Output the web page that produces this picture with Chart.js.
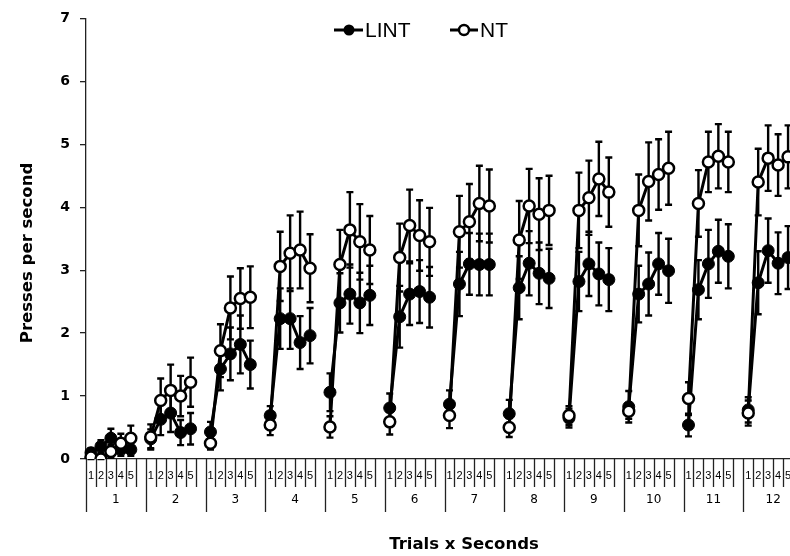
<!DOCTYPE html>
<html lang="en">
<head>
    <meta charset="UTF-8">
    <title>Presses per second - LINT vs NT</title>
    <style>
        html, body {
            margin: 0;
            padding: 0;
            background: #fff;
            overflow: hidden;
        }
        #wrap {
            width: 811px;
            height: 556px;
        }
    </style>
    <script src="https://cdn.jsdelivr.net/npm/chart.js"></script>
</head>
<body>
    <div id="wrap"><canvas id="pressChart" width="811" height="556"></canvas></div>

    <script>
        // trials (groups) and seconds within each trial
        const trials = ['1', '2', '3', '4', '5', '6', '7', '8', '9', '10', '11', '12'];
        const seconds = ['1', '2', '3', '4', '5'];
        const yTicks = [0, 1, 2, 3, 4, 5, 6, 7];

        // mean presses per second, one row per trial
        const lintMeans = [
            0.10, 0.20, 0.33, 0.15, 0.15,
            0.32, 0.63, 0.73, 0.42, 0.48,
            0.43, 1.43, 1.67, 1.82, 1.50,
            0.69, 2.23, 2.23, 1.85, 1.96,
            1.06, 2.48, 2.62, 2.48, 2.60,
            0.81, 2.26, 2.62, 2.66, 2.57,
            0.87, 2.78, 3.10, 3.09, 3.09,
            0.72, 2.72, 3.11, 2.95, 2.87,
            0.65, 2.82, 3.10, 2.94, 2.85,
            0.83, 2.62, 2.78, 3.10, 2.99,
            0.54, 2.69, 3.10, 3.30, 3.22,
            0.78, 2.80, 3.31, 3.11, 3.20
        ];
        const ntMeans = [
            0.03, 0.00, 0.12, 0.25, 0.33,
            0.35, 0.93, 1.09, 1.00, 1.22,
            0.25, 1.72, 2.40, 2.55, 2.57,
            0.54, 3.06, 3.27, 3.32, 3.03,
            0.51, 3.09, 3.64, 3.45, 3.32,
            0.59, 3.20, 3.71, 3.55, 3.45,
            0.69, 3.61, 3.77, 4.06, 4.02,
            0.50, 3.48, 4.02, 3.89, 3.95,
            0.69, 3.95, 4.15, 4.45, 4.24,
            0.76, 3.95, 4.41, 4.52, 4.62,
            0.96, 4.06, 4.72, 4.81, 4.72,
            0.73, 4.40, 4.78, 4.67, 4.80
        ];
        // standard errors
        const lintSem = [
            0.07, 0.10, 0.15, 0.10, 0.10,
            0.15, 0.25, 0.30, 0.20, 0.25,
            0.16, 0.34, 0.42, 0.46, 0.38,
            0.15, 0.48, 0.48, 0.42, 0.44,
            0.30, 0.47, 0.47, 0.48, 0.47,
            0.23, 0.49, 0.49, 0.50, 0.48,
            0.22, 0.51, 0.49, 0.49, 0.49,
            0.22, 0.50, 0.51, 0.49, 0.47,
            0.15, 0.47, 0.51, 0.50, 0.50,
            0.25, 0.45, 0.50, 0.49, 0.51,
            0.18, 0.47, 0.54, 0.50, 0.51,
            0.20, 0.50, 0.51, 0.49, 0.50
        ];
        const ntSem = [
            0.05, 0.05, 0.10, 0.15, 0.20,
            0.20, 0.35, 0.41, 0.32, 0.39,
            0.10, 0.42, 0.50, 0.48, 0.49,
            0.16, 0.55, 0.60, 0.61, 0.54,
            0.17, 0.55, 0.60, 0.60, 0.54,
            0.20, 0.54, 0.57, 0.56, 0.54,
            0.20, 0.57, 0.60, 0.60, 0.58,
            0.15, 0.62, 0.59, 0.57, 0.55,
            0.15, 0.60, 0.59, 0.59, 0.55,
            0.12, 0.57, 0.62, 0.56, 0.58,
            0.26, 0.53, 0.48, 0.51, 0.48,
            0.20, 0.53, 0.52, 0.49, 0.50
        ];

        // each trial gets 5 slots + 1 empty slot, so the lines break between trials
        const slotsPerTrial = seconds.length + 1;
        const labels = [];
        trials.forEach(() => { seconds.forEach(s => labels.push(s)); labels.push(''); });

        function withGaps(arr) {
            const out = [];
            trials.forEach((t, g) => {
                seconds.forEach((s, i) => out.push(arr[g * seconds.length + i]));
                out.push(null);
            });
            return out;
        }

        const FONT = "'DejaVu Sans', sans-serif";

        // error bars, drawn under the lines/markers
        const errorBars = {
            id: 'errorBars',
            beforeDatasetsDraw(chart) {
                const ctx = chart.ctx;
                const y = chart.scales.y;
                ctx.save();
                ctx.strokeStyle = '#000';
                ctx.lineWidth = 2.4;
                chart.data.datasets.forEach((ds, di) => {
                    const meta = chart.getDatasetMeta(di);
                    const sem = withGaps(ds.sem);
                    ds.data.forEach((v, i) => {
                        if (v === null) return;
                        const px = meta.data[i].x;
                        const top = y.getPixelForValue(v + sem[i]);
                        const bot = y.getPixelForValue(Math.max(0, v - sem[i]));
                        ctx.beginPath();
                        ctx.moveTo(px, top); ctx.lineTo(px, bot);
                        ctx.moveTo(px - 3.5, top); ctx.lineTo(px + 3.5, top);
                        ctx.moveTo(px - 3.5, bot); ctx.lineTo(px + 3.5, bot);
                        ctx.stroke();
                    });
                });
                ctx.restore();
            }
        };

        // trial / second axis, titles and legend
        const decorations = {
            id: 'decorations',
            afterDraw(chart) {
                const ctx = chart.ctx;
                const x = chart.scales.x;
                const area = chart.chartArea;
                const bw = (x.right - x.left) / labels.length;
                ctx.save();
                ctx.strokeStyle = '#222';
                ctx.lineWidth = 1.3;
                ctx.beginPath();
                for (let k = 0; k <= labels.length; k++) {
                    const px = Math.round(x.left + k * bw) + 0.5;
                    const len = (k % slotsPerTrial === 0) ? 53 : 28;
                    ctx.moveTo(px, area.bottom);
                    ctx.lineTo(px, area.bottom + len);
                }
                ctx.stroke();

                ctx.fillStyle = '#000';
                ctx.textAlign = 'center';
                ctx.textBaseline = 'middle';
                ctx.font = "12px " + FONT;
                trials.forEach((t, g) => {
                    ctx.fillText(t, x.left + (g + 0.5) * slotsPerTrial * bw, 500);
                });

                ctx.font = "bold 16.5px " + FONT;
                ctx.fillText('Trials x Seconds', 464, 545);
                ctx.save();
                ctx.translate(28, 253);
                ctx.rotate(-Math.PI / 2);
                ctx.fillText('Presses per second', 0, 0);
                ctx.restore();

                // legend
                const ly = 30;
                ctx.lineWidth = 3;
                ctx.strokeStyle = '#000';
                ctx.beginPath();
                ctx.moveTo(334, ly); ctx.lineTo(363, ly);
                ctx.moveTo(450, ly); ctx.lineTo(478, ly);
                ctx.stroke();
                ctx.beginPath();
                ctx.arc(349, ly, 5.5, 0, Math.PI * 2);
                ctx.fill();
                ctx.beginPath();
                ctx.arc(464, ly, 5, 0, Math.PI * 2);
                ctx.fillStyle = '#fff';
                ctx.fill();
                ctx.lineWidth = 2.4;
                ctx.stroke();
                ctx.fillStyle = '#000';
                ctx.textAlign = 'left';
                ctx.font = "21px 'Liberation Sans', sans-serif";
                ctx.fillText('LINT', 365, ly + 1);
                ctx.fillText('NT', 480, ly + 1);
                ctx.restore();
            }
        };

        const ctx = document.getElementById('pressChart').getContext('2d');
        const pressChart = new Chart(ctx, {
            type: 'line',
            data: {
                labels: labels,
                datasets: [
                    {
                        label: 'LINT',
                        data: withGaps(lintMeans),
                        sem: lintSem,
                        borderColor: '#000',
                        backgroundColor: '#000',
                        borderWidth: 3,
                        pointRadius: 6,
                        pointBorderWidth: 1,
                        pointBackgroundColor: '#000',
                        pointBorderColor: '#000',
                        spanGaps: false,
                        order: 2
                    },
                    {
                        label: 'NT',
                        data: withGaps(ntMeans),
                        sem: ntSem,
                        borderColor: '#000',
                        backgroundColor: '#fff',
                        borderWidth: 3,
                        pointRadius: 5.5,
                        pointBorderWidth: 2.5,
                        pointBackgroundColor: '#fff',
                        pointBorderColor: '#000',
                        spanGaps: false,
                        order: 1
                    }
                ]
            },
            options: {
                responsive: false,
                animation: false,
                layout: { padding: { top: 15, right: 0, bottom: 0, left: 0 } },
                plugins: {
                    legend: { display: false },
                    tooltip: { enabled: false }
                },
                scales: {
                    x: {
                        type: 'category',
                        offset: true,
                        grid: { display: false, drawTicks: false },
                        border: { display: true, color: '#222', width: 1.3 },
                        ticks: {
                            autoSkip: false,
                            maxRotation: 0,
                            minRotation: 0,
                            padding: 10,
                            color: '#000',
                            font: { family: "'Liberation Sans', sans-serif", size: 11 }
                        },
                        afterFit: s => { s.height = 97; }
                    },
                    y: {
                        min: 0,
                        max: 7,
                        afterBuildTicks: s => { s.ticks = yTicks.map(v => ({ value: v })); },
                        grid: { drawOnChartArea: false, drawTicks: true, tickLength: 6, color: '#222', lineWidth: 1.3 },
                        border: { display: true, color: '#222', width: 1.3 },
                        ticks: {
                            padding: 10,
                            color: '#000',
                            font: { family: FONT, size: 14, weight: 'bold' }
                        },
                        afterFit: s => { s.width = 86; }
                    }
                }
            },
            plugins: [errorBars, decorations]
        });
    </script>
</body>
</html>
